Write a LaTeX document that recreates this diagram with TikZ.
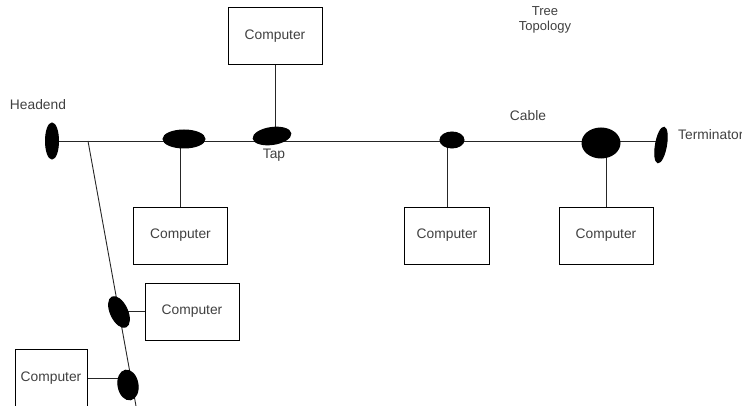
\documentclass[tikz,border=0pt]{standalone}
\usepackage{fontspec}
\setmainfont{Liberation Sans}
\usetikzlibrary{shapes.geometric,backgrounds}
\begin{document}
\begin{tikzpicture}[x=1pt,y=-1pt,
  comp/.style={draw=black,line width=0.8pt,rectangle,minimum width=94pt,minimum height=57pt,inner sep=0pt,font=\fontsize{13.8}{16}\selectfont,text=black!75},
  blob/.style={ellipse,fill=black,draw=black,line width=1pt,inner sep=0pt},
  lbl/.style={font=\fontsize{13.8}{16}\selectfont,text=black!75,inner sep=0pt},
  wire/.style={line width=0.9pt,draw=black!85}]
\useasboundingbox (0,0) rectangle (742,406);
% blobs
\node[blob,minimum width=13pt,minimum height=36pt] (head) at (52,141) {};
\node[blob,minimum width=42pt,minimum height=18pt] (b1) at (184,139) {};
\node[blob,minimum width=38pt,minimum height=17pt,rotate=8] (tap) at (272,136) {};
\node[blob,minimum width=24pt,minimum height=16pt] (b3) at (452,140) {};
\node[blob,minimum width=38pt,minimum height=30pt] (b4) at (601,143) {};
\node[blob,minimum width=11pt,minimum height=36pt,rotate=-10] (term) at (661,145) {};
\node[blob,minimum width=17pt,minimum height=33pt,rotate=25] (d1) at (119,312) {};
\node[blob,minimum width=20pt,minimum height=30pt,rotate=10] (d2) at (128,385) {};
% computers
\node[comp] (top) at (275,36) {Computer};
\node[comp] (c1) at (180.5,235.5) {Computer};
\node[comp,minimum width=85pt] (c2) at (447,235.5) {Computer};
\node[comp] (c3) at (606,235.5) {Computer};
\node[comp] (cd1) at (192,311.5) {Computer};
\node[comp,minimum width=72pt,minimum height=62pt] (cd2) at (51,380) {};
\node[lbl] (cd2t) at (51,378) {Computer};
% labels
\node[lbl] (lhead) at (38,105) {Headend};
\node[lbl] (ltap) at (274,155) {Tap};
\node[lbl] (lcable) at (528,116) {Cable};
\node[lbl,align=center,font=\fontsize{13}{15}\selectfont] (ltitle) at (545,20) {Tree\\Topology};
\node[lbl,anchor=west] (lterm) at (678,135) {Terminator};
\coordinate (j) at (88,141);
\coordinate (dend) at (136,406);
\begin{pgfonlayer}{background}
\draw[wire] (head.center) -- (head.center -| term.center);
\draw[wire] (j) -- (dend);
\draw[wire] (top.south) -- (top.south |- tap.center);
\draw[wire] (c1.north) -- (c1.north |- b1.center);
\draw[wire] (c2.north) -- (c2.north |- b3.center);
\draw[wire] (c3.north) -- (c3.north |- b4.center);
\draw[wire] (cd1.west) -- (cd1.west -| d1.center);
\draw[wire] (cd2.east |- cd2t.center) -- (d2.center |- cd2t.center);
\end{pgfonlayer}
\end{tikzpicture}
\end{document}
